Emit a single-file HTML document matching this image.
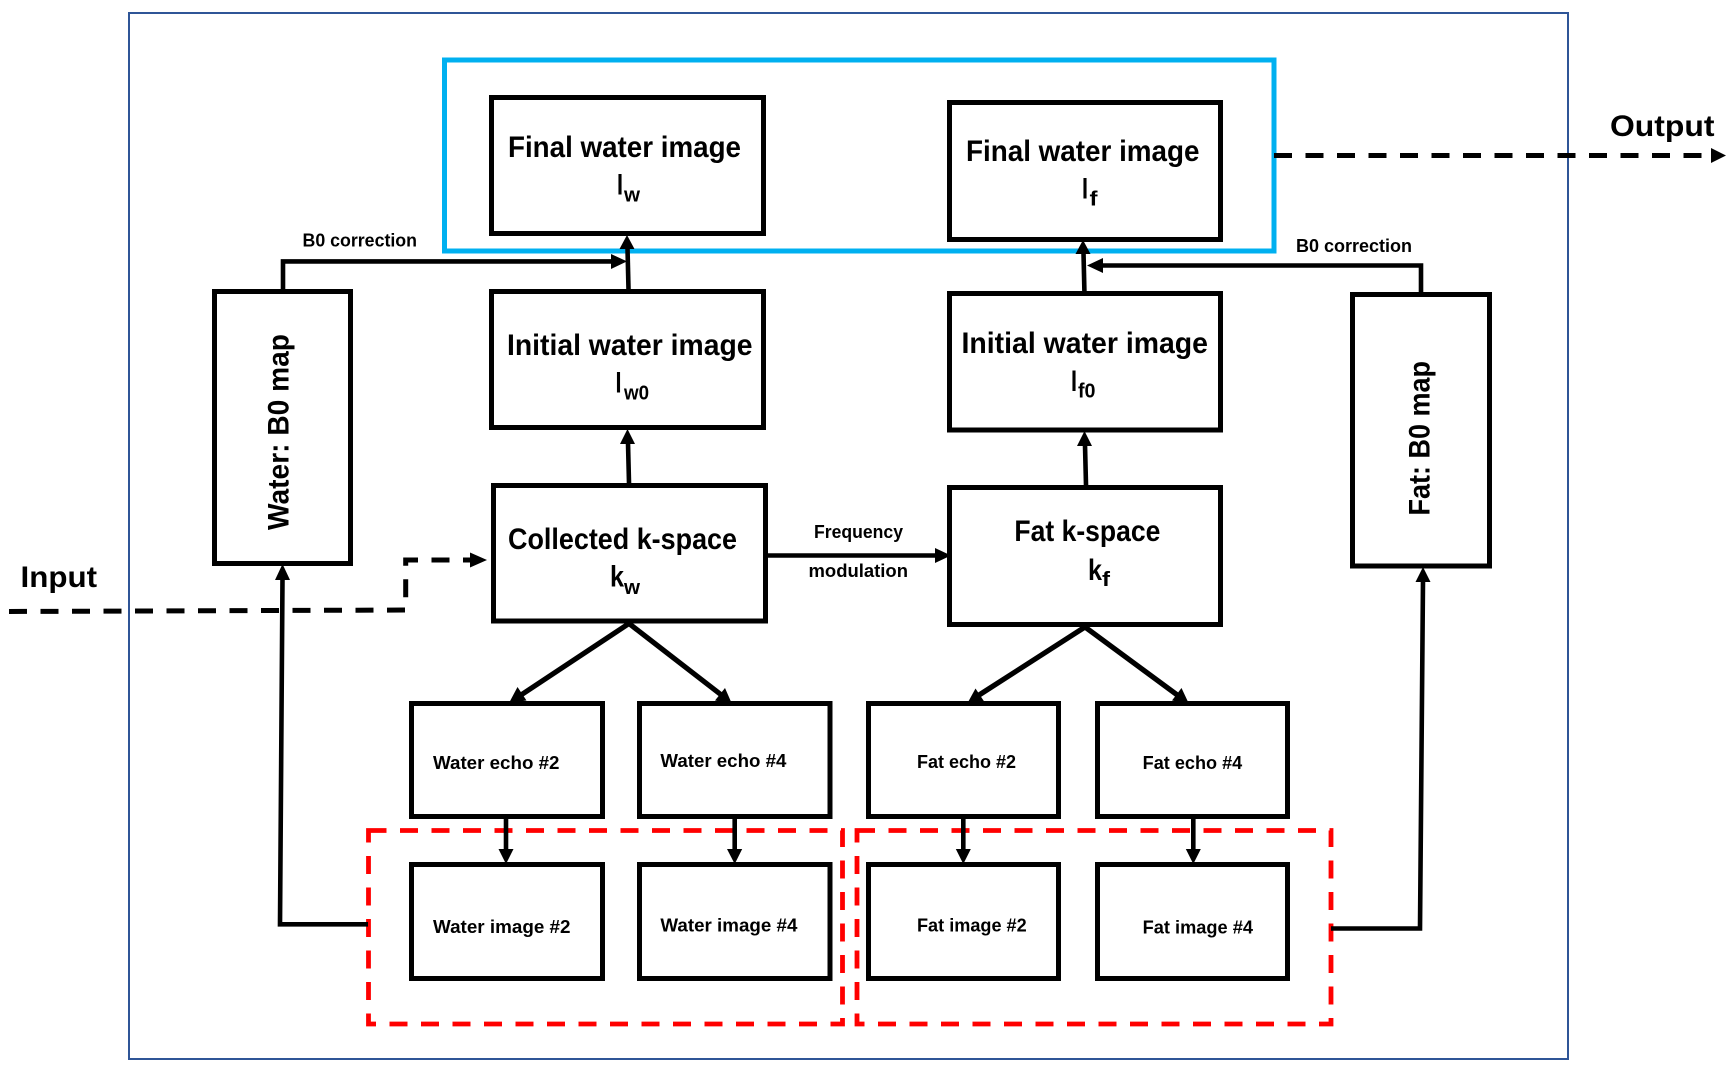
<!DOCTYPE html>
<html><head><meta charset="utf-8"><style>
html,body{margin:0;padding:0;background:#fff}
svg{display:block}
text{font-family:"Liberation Sans",sans-serif;font-weight:bold;fill:#000}
.a{font-size:30px}.s{font-size:20px}.m{font-size:18px}
.b{fill:#fff;stroke:#000;stroke-width:5}
.l{fill:none;stroke:#000;stroke-width:4.6}
.g{fill:none;stroke:#000;stroke-width:5.2}
.d{fill:none;stroke:#000;stroke-width:5;stroke-dasharray:18 13.5}
.r{fill:none;stroke:#f00;stroke-width:4.8;stroke-dasharray:18 13.5}
</style></head><body>
<svg width="1731" height="1069" viewBox="0 0 1731 1069" xmlns="http://www.w3.org/2000/svg">
<rect width="1731" height="1069" fill="#fff"/>
<rect x="129" y="13" width="1439" height="1046" fill="none" stroke="#2F5597" stroke-width="2"/>
<rect x="444.5" y="60" width="829.5" height="191" fill="none" stroke="#00B0F0" stroke-width="5"/>
<rect x="368.5" y="830.5" width="474" height="193.5" class="r"/>
<rect x="857" y="830.5" width="474" height="193.5" class="r"/>

<!-- diagonal connectors -->
<path class="g" d="M629 623.5L518 697M629 623.5L724 697M1085 627L976 697M1085 627L1180 697"/>
<polygon points="509,703 526.5,700.5 517.5,687"/>
<polygon points="732,704 725,688 715,700.5"/>
<polygon points="967,704 984.5,702 975.5,688.5"/>
<polygon points="1189,704 1181.5,688 1172,700.5"/>

<!-- boxes -->
<rect class="b" x="491.5" y="97.5" width="272" height="136"/>
<rect class="b" x="491.5" y="291.5" width="272" height="136"/>
<rect class="b" x="493.5" y="485.5" width="272" height="135.5"/>
<rect class="b" x="214.5" y="291.5" width="136" height="272"/>
<rect class="b" x="949.5" y="102.5" width="271" height="137"/>
<rect class="b" x="949.5" y="293.5" width="271" height="136.5"/>
<rect class="b" x="949.5" y="487.5" width="271" height="137"/>
<rect class="b" x="1352.5" y="294.5" width="137" height="271.5"/>
<rect class="b" x="411.5" y="703.5" width="191" height="113"/>
<rect class="b" x="639.5" y="703.5" width="190.5" height="113"/>
<rect class="b" x="868.5" y="703.5" width="190" height="113"/>
<rect class="b" x="1097.5" y="703.5" width="190" height="113"/>
<rect class="b" x="411.5" y="864.5" width="191" height="114"/>
<rect class="b" x="639.5" y="864.5" width="190.5" height="114"/>
<rect class="b" x="868.5" y="864.5" width="190" height="114"/>
<rect class="b" x="1097.5" y="864.5" width="190" height="114"/>

<!-- straight connectors -->
<path class="l" d="M628.5 289L627.5 248"/><polygon points="627,235 619.5,249 634.5,249"/>
<path class="l" d="M629 483L628 443"/><polygon points="627.5,429 620,444 635,444"/>
<path class="l" d="M1084.4 291L1083.5 253"/><polygon points="1083,240 1075.5,254 1090.5,254"/>
<path class="l" d="M1086 485L1085 445"/><polygon points="1084.5,431 1077,446 1092,446"/>
<path class="l" d="M283 289V261.4H612"/><polygon points="627,261.4 611,254 611,269"/>
<path class="l" d="M1421 292V265.5H1102"/><polygon points="1087,265.5 1103,258 1103,273"/>
<path class="l" d="M768 555.5H936"/><polygon points="951,555.5 935,548 935,563"/>
<path class="l" d="M368 924.3H280L282.5 578"/><polygon points="282.5,564 275,580 290,580"/>
<path class="l" d="M1331 928.5H1420L1423 580"/><polygon points="1423,567 1415.5,582 1430.5,582"/>
<path class="l" d="M506 819V850"/><polygon points="506,864 498.5,849 513.5,849"/>
<path class="l" d="M734.7 819V850"/><polygon points="734.7,864 727,849 742.2,849"/>
<path class="l" d="M963.3 819V850"/><polygon points="963.3,864 955.8,849 970.8,849"/>
<path class="l" d="M1193.3 819V850"/><polygon points="1193.3,864 1185.8,849 1200.8,849"/>

<!-- dashed input / output -->
<path class="d" d="M9 611.5L405.7 610V560H470"/><polygon points="487,560 470,552.5 470,567.5"/>
<path class="d" d="M1274 155.5H1708"/><polygon points="1726,155.5 1711,148 1711,163"/>

<!-- labels -->
<text class="a" x="508" y="157" textLength="233" lengthAdjust="spacingAndGlyphs">Final water image</text>
<text class="a" x="617" y="194.5" textLength="6" lengthAdjust="spacingAndGlyphs">I</text><text class="s" x="624" y="201.5" textLength="16" lengthAdjust="spacingAndGlyphs">w</text>
<text class="a" x="507" y="355" textLength="245.5" lengthAdjust="spacingAndGlyphs">Initial water image</text>
<text class="a" x="615.5" y="392.5" textLength="6" lengthAdjust="spacingAndGlyphs">I</text><text class="s" x="624" y="399.5" textLength="25" lengthAdjust="spacingAndGlyphs">w0</text>
<text class="a" x="508" y="549" textLength="229" lengthAdjust="spacingAndGlyphs">Collected k-space</text>
<text class="a" x="610" y="586.7" textLength="14" lengthAdjust="spacingAndGlyphs">k</text><text class="s" x="624" y="594" textLength="16" lengthAdjust="spacingAndGlyphs">w</text>
<text class="a" x="966" y="161" textLength="233.5" lengthAdjust="spacingAndGlyphs">Final water image</text>
<text class="a" x="1082" y="198.7" textLength="6" lengthAdjust="spacingAndGlyphs">I</text><text class="s" x="1089.5" y="205.6" textLength="8" lengthAdjust="spacingAndGlyphs">f</text>
<text class="a" x="961.5" y="353" textLength="246.5" lengthAdjust="spacingAndGlyphs">Initial water image</text>
<text class="a" x="1071" y="391" textLength="6" lengthAdjust="spacingAndGlyphs">I</text><text class="s" x="1078" y="397.7" textLength="17.5" lengthAdjust="spacingAndGlyphs">f0</text>
<text class="a" x="1014.4" y="541" textLength="146" lengthAdjust="spacingAndGlyphs">Fat k-space</text>
<text class="a" x="1088" y="580" textLength="14" lengthAdjust="spacingAndGlyphs">k</text><text class="s" x="1102" y="586" textLength="8" lengthAdjust="spacingAndGlyphs">f</text>
<text class="a" x="1610" y="136" textLength="104.5" lengthAdjust="spacingAndGlyphs">Output</text>
<text class="a" x="20.5" y="587" textLength="76.5" lengthAdjust="spacingAndGlyphs">Input</text>
<text class="a" transform="translate(288.6 530) rotate(-90)" textLength="196" lengthAdjust="spacingAndGlyphs">Water: B0 map</text>
<text class="a" transform="translate(1429.5 515.5) rotate(-90)" textLength="154.5" lengthAdjust="spacingAndGlyphs">Fat: B0 map</text>
<text class="m" x="302.5" y="246.5" textLength="114.5" lengthAdjust="spacingAndGlyphs">B0 correction</text>
<text class="m" x="1296" y="252" textLength="116" lengthAdjust="spacingAndGlyphs">B0 correction</text>
<text class="m" x="814" y="538" textLength="89" lengthAdjust="spacingAndGlyphs">Frequency</text>
<text class="m" x="808.5" y="577" textLength="99.5" lengthAdjust="spacingAndGlyphs">modulation</text>
<text class="m" x="433" y="769" textLength="126.5" lengthAdjust="spacingAndGlyphs">Water echo #2</text>
<text class="m" x="660.4" y="767" textLength="126" lengthAdjust="spacingAndGlyphs">Water echo #4</text>
<text class="m" x="433" y="933" textLength="137.5" lengthAdjust="spacingAndGlyphs">Water image #2</text>
<text class="m" x="660.4" y="931.5" textLength="137" lengthAdjust="spacingAndGlyphs">Water image #4</text>
<text class="m" x="917" y="768" textLength="99" lengthAdjust="spacingAndGlyphs">Fat echo #2</text>
<text class="m" x="1142.7" y="769" textLength="99.5" lengthAdjust="spacingAndGlyphs">Fat echo #4</text>
<text class="m" x="917" y="931.5" textLength="109.7" lengthAdjust="spacingAndGlyphs">Fat image #2</text>
<text class="m" x="1142.7" y="933.5" textLength="110.3" lengthAdjust="spacingAndGlyphs">Fat image #4</text>
</svg>
</body></html>
